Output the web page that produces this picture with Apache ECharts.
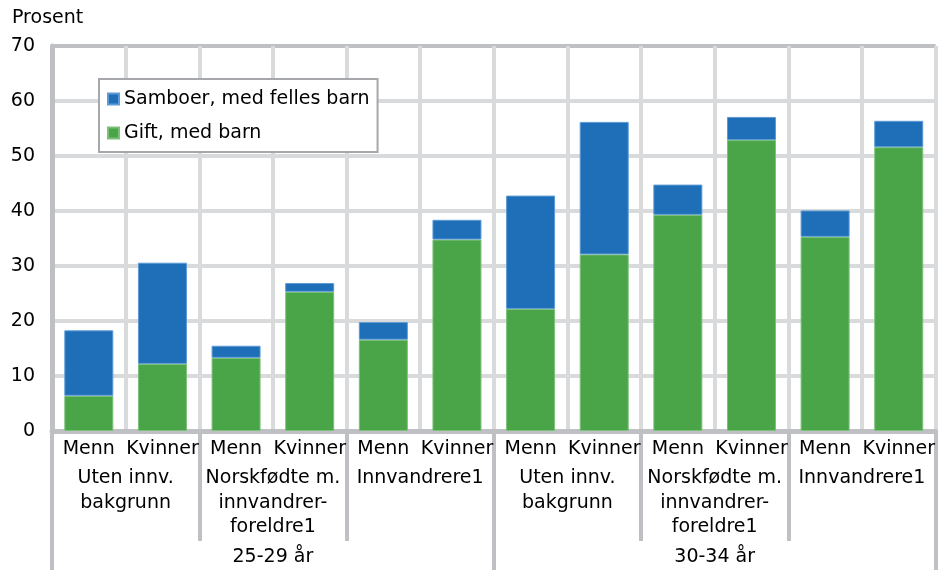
<!DOCTYPE html>
<html>
	<head>
		<meta charset="utf-8">
		<title>Samboer og gift med barn</title>
		<style>
			html, body { margin: 0; padding: 0; background: #fff; }
		</style>
	</head>
	<script src="https://cdn.jsdelivr.net/npm/echarts@6.0.0/dist/echarts.min.js"></script>
	<body>
		<div id="main" style="width: 938px;height:570px;"></div>
		<script type="text/javascript">
		// kjønn, gruppe, alder
		var kjonn = ['Menn', 'Kvinner', 'Menn', 'Kvinner', 'Menn', 'Kvinner', 'Menn', 'Kvinner', 'Menn', 'Kvinner', 'Menn', 'Kvinner'];
		var grupper = ['Uten innv.\nbakgrunn', 'Norskfødte m.\ninnvandrer-\nforeldre1', 'Innvandrere1', 'Uten innv.\nbakgrunn', 'Norskfødte m.\ninnvandrer-\nforeldre1', 'Innvandrere1'];
		var alder = ['25-29 år', '30-34 år'];
		var yTicks = [0, 10, 20, 30, 40, 50, 60, 70];

		var gift = [6.4, 12.2, 13.3, 25.3, 16.6, 34.8, 22.2, 32.1, 39.3, 52.9, 35.3, 51.6];
		var samboer = [11.9, 18.4, 2.2, 1.6, 3.2, 3.6, 20.6, 24.1, 5.5, 4.2, 4.8, 4.8];

		var font = 'DejaVu Sans';
		var lineGrey = '#bfc0c3';
		var gridGrey = '#d9dadc';

		var myChart = echarts.init(document.getElementById('main'));

		myChart.setOption({
			animation: false,
			textStyle: { fontFamily: font },
			grid: { left: 52, right: 2, top: 46, bottom: 139 },
			graphic: [
				{
					type: 'text',
					left: 12,
					top: 9,
					style: { text: 'Prosent', font: '19px "DejaVu Sans"', fill: '#000' }
				}
			],
			legend: {
				data: ['Samboer, med felles barn', 'Gift, med barn'],
				orient: 'vertical',
				left: 99,
				top: 79,
				padding: [9, 8, 8, 8],
				itemGap: 12,
				itemWidth: 11,
				itemHeight: 11,
				icon: 'rect',
				backgroundColor: '#fff',
				borderColor: '#a6a7aa',
				borderWidth: 2,
				textStyle: { fontSize: 19, color: '#000', lineHeight: 22, width: 242, fontFamily: font }
			},
			xAxis: [
				{
					type: 'category',
					data: kjonn,
					axisLine: { lineStyle: { color: lineGrey, width: 5 } },
					axisTick: { show: false },
					axisLabel: { interval: 0, margin: 7, fontSize: 19, color: '#000', lineHeight: 22 },
					splitLine: { show: true, interval: 0, lineStyle: { color: gridGrey, width: 4 } }
				},
				{
					type: 'category',
					data: grupper,
					position: 'bottom',
					axisLine: { show: false },
					axisTick: { show: true, interval: 0, length: 110, lineStyle: { color: lineGrey, width: 4 } },
					axisLabel: { interval: 0, margin: 35, fontSize: 19, color: '#000', lineHeight: 24.5 },
					splitLine: { show: false }
				},
				{
					type: 'category',
					data: alder,
					position: 'bottom',
					axisLine: { show: false },
					axisTick: { show: true, interval: 0, length: 140, lineStyle: { color: lineGrey, width: 4 } },
					axisLabel: { interval: 0, margin: 114, fontSize: 19, color: '#000', lineHeight: 24.5 },
					splitLine: { show: false }
				}
			],
			yAxis: [
				{
					type: 'value',
					min: yTicks[0],
					max: yTicks[yTicks.length - 1],
					interval: 10,
					axisLine: { show: true, lineStyle: { color: lineGrey, width: 5 } },
					axisTick: { show: false },
					axisLabel: { margin: 17, fontSize: 19, color: '#000' },
					splitLine: {
						lineStyle: {
							color: [gridGrey, gridGrey, gridGrey, gridGrey, gridGrey, gridGrey, gridGrey, lineGrey],
							width: 4
						}
					}
				}
			],
			series: [
				{
					name: 'Gift, med barn',
					type: 'bar',
					stack: 'tot',
					xAxisIndex: 0,
					barWidth: 49,
					itemStyle: { color: '#4aa548', borderColor: '#7cc07a', borderWidth: 1 },
					data: gift
				},
				{
					name: 'Samboer, med felles barn',
					type: 'bar',
					stack: 'tot',
					xAxisIndex: 0,
					barWidth: 49,
					itemStyle: { color: '#1e6fb7', borderColor: '#5c9bd6', borderWidth: 1 },
					data: samboer
				}
			]
		});
		</script>
	</body>
</html>
